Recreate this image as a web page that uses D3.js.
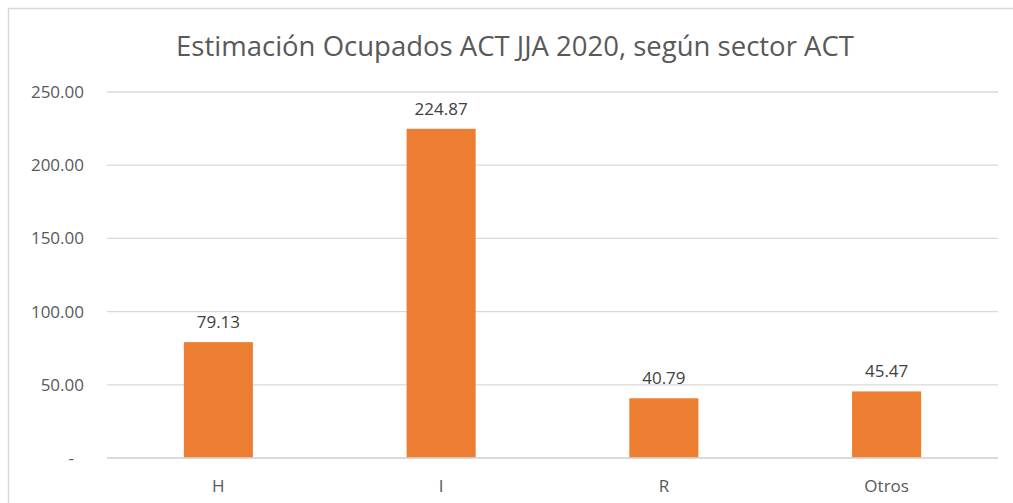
<!DOCTYPE html>
<html>
<head>
<meta charset="utf-8">
<script src="https://cdn.jsdelivr.net/npm/d3@7"></script>
<style>
  body { margin: 0; background: #fff; }
  svg { display: block; }
</style>
</head>
<body>
<svg id="chart" width="1013" height="503"></svg>
<script>
var categories = ['H', 'I', 'R', 'Otros']
var values = [79.13, 224.87, 40.79, 45.47]
var yTicks = [0, 50, 100, 150, 200, 250]
var title = 'Estimación Ocupados ACT JJA 2020, según sector ACT'

var svg = d3.select('#chart')
var fontFam = '"Open Sans", "Noto Sans", sans-serif'
var textColor = '#595959'

// chart frame, cut off on the right and bottom like the screenshot
svg.append('rect')
    .attr('x', 8.5).attr('y', 8.5)
    .attr('width', 1020).attr('height', 510)
    .attr('fill', '#fff')
    .attr('stroke', '#d9d9d9').attr('stroke-width', 1.5)

var plotLeft = 107, plotRight = 998, plotTop = 92, plotBottom = 458

var x = d3.scaleBand().domain(categories).range([plotLeft, plotRight]).paddingInner(0.69).paddingOuter(0.345)
var y = d3.scaleLinear().domain([0, 250]).range([plotBottom, plotTop])

svg.append('text')
    .attr('x', 515).attr('y', 56)
    .attr('text-anchor', 'middle')
    .attr('font-family', fontFam)
    .attr('font-size', '27.5px')
    .attr('fill', textColor)
    .text(title)

// gridlines
svg.append('g').selectAll('line')
    .data(yTicks)
    .enter().append('line')
    .attr('x1', plotLeft).attr('x2', plotRight)
    .attr('y1', function (d) { return y(d) }).attr('y2', function (d) { return y(d) })
    .attr('stroke', '#d9d9d9').attr('stroke-width', 1.3)

// y labels
svg.append('g').selectAll('text')
    .data(yTicks)
    .enter().append('text')
    .attr('x', function (d) { return d === 0 ? 74 : 84 })
    .attr('y', function (d) { return y(d) + 6 })
    .attr('text-anchor', 'end')
    .attr('font-family', fontFam)
    .attr('font-size', '17px')
    .attr('fill', textColor)
    .text(function (d) { return d === 0 ? '-' : d3.format('.2f')(d) })

// bars
svg.append('g').selectAll('rect')
    .data(values)
    .enter().append('rect')
    .attr('x', function (d, i) { return x(categories[i]) })
    .attr('width', x.bandwidth())
    .attr('y', function (d) { return y(d) })
    .attr('height', function (d) { return plotBottom - y(d) })
    .attr('fill', '#ed7d31')

// zero line drawn over bars
svg.append('line')
    .attr('x1', plotLeft).attr('x2', plotRight)
    .attr('y1', plotBottom).attr('y2', plotBottom)
    .attr('stroke', '#d9d9d9').attr('stroke-width', 1.3)

// data labels
svg.append('g').selectAll('text')
    .data(values)
    .enter().append('text')
    .attr('x', function (d, i) { return x(categories[i]) + x.bandwidth() / 2 })
    .attr('y', function (d) { return y(d) - 14 })
    .attr('text-anchor', 'middle')
    .attr('font-family', fontFam)
    .attr('font-size', '17px')
    .attr('fill', '#404040')
    .text(function (d) { return d3.format('.2f')(d) })

// category labels
svg.append('g').selectAll('text')
    .data(categories)
    .enter().append('text')
    .attr('x', function (d) { return x(d) + x.bandwidth() / 2 })
    .attr('y', 492)
    .attr('text-anchor', 'middle')
    .attr('font-family', fontFam)
    .attr('font-size', '17px')
    .attr('fill', textColor)
    .text(function (d) { return d })
</script>
</body>
</html>
